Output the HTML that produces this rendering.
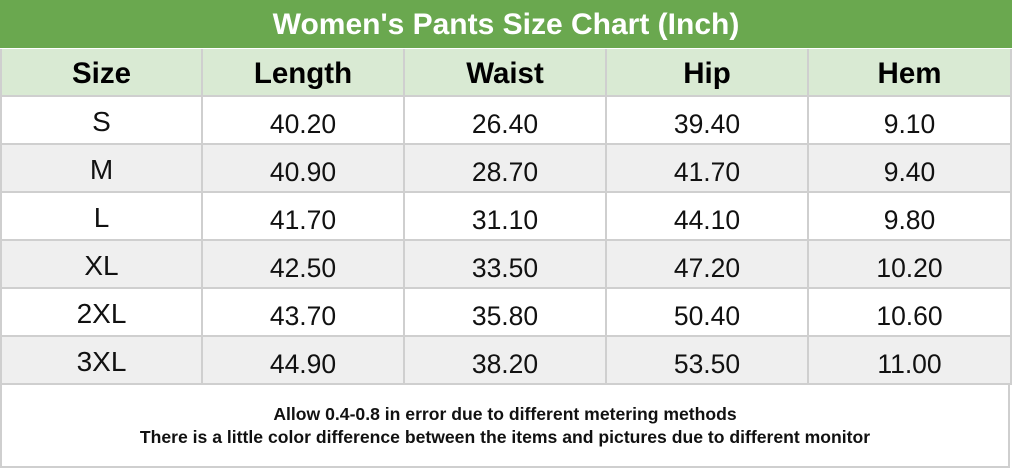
<!DOCTYPE html>
<html><head><style>
body{margin:0;width:1012px;height:470px;background:#fff;font-family:"Liberation Sans",Arial,sans-serif;position:relative;overflow:hidden}
.t{position:absolute;left:0;top:0;width:1012px;height:48px;background:#6aa84f;color:#fff;font-weight:bold;font-size:30px;text-align:center;line-height:50px}
.c{position:absolute;box-sizing:border-box;border-right:2px solid #cfcfcf;border-bottom:2px solid #cfcfcf;text-align:center;color:#111;font-size:26.5px;line-height:54px;height:48px}
.h{background:#d9ead3;font-weight:bold;font-size:29.5px;color:#000;line-height:49px}
.g{background:#efefef}
.f{position:absolute;left:0;top:385px;width:1010px;height:83px;border-right:2px solid #cfcfcf;border-bottom:2px solid #cfcfcf;border-left:2px solid #cfcfcf;box-sizing:border-box;text-align:center;font-weight:bold;font-size:17.6px;line-height:23px;padding-top:18px;color:#111}
</style></head><body>
<div class="t">Women's Pants Size Chart (Inch)</div>
<div id="g"></div>
<div class="f">Allow 0.4-0.8 in error due to different metering methods<br>There is a little color difference between the items and pictures due to different monitor</div>
<script>
var xs=[0,203,405,607,809,1012];
var rows=[["Size","Length","Waist","Hip","Hem"],["S","40.20","26.40","39.40","9.10"],["M","40.90","28.70","41.70","9.40"],["L","41.70","31.10","44.10","9.80"],["XL","42.50","33.50","47.20","10.20"],["2XL","43.70","35.80","50.40","10.60"],["3XL","44.90","38.20","53.50","11.00"]];
var h="";
rows.forEach(function(r,i){var y=49+i*48;r.forEach(function(v,j){
var cls="c"+(i==0?" h":(i%2==0?" g":""));
var st="left:"+xs[j]+"px;top:"+y+"px;width:"+(xs[j+1]-xs[j])+"px;"+(j==0?"border-left:2px solid #cfcfcf;":"");
if(i>0&&j==0)st+="font-size:28px;line-height:50px;";
h+='<div class="'+cls+'" style="'+st+'">'+v+'</div>';});});
document.getElementById("g").innerHTML=h;
</script>
</body></html>
